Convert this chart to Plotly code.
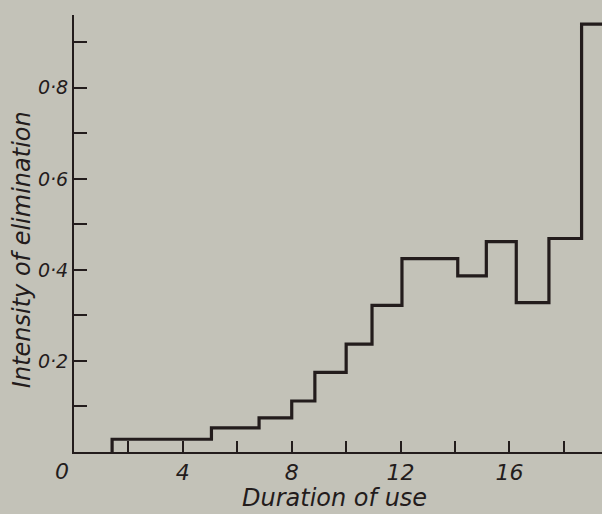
import plotly.graph_objects as go

# Step edges (duration of use) and intensity values for each interval
edges = [1.4, 5.05, 6.8, 8.0, 8.85, 10.0, 10.95, 12.05, 14.1, 15.15, 16.25, 17.45, 18.65, 19.4]
intensity = [0.028, 0.053, 0.075, 0.112, 0.175, 0.237, 0.322, 0.425, 0.387, 0.462, 0.328, 0.469, 0.94]

x_major = [4, 8, 12, 16]
x_major_text = ["4", "8", "12", "16"]
x_minor = [2, 6, 10, 14, 18]
y_major = [0.2, 0.4, 0.6, 0.8]
y_major_text = ["0·8" if v == 0.8 else "0·6" if v == 0.6 else "0·4" if v == 0.4 else "0·2" for v in y_major]
y_minor = [0.1, 0.3, 0.5, 0.7, 0.9]

# build hv step path
xs = [edges[0]] + edges[:-1] + [edges[-1]]
ys = [0] + intensity + [intensity[-1]]

BG = "#c3c2b8"
INK = "#231c1c"
FONT = "DejaVu Sans"

fig = go.Figure()
fig.add_trace(go.Scatter(x=xs, y=ys, mode="lines", line=dict(shape="hv", color=INK, width=3.2),
                         hoverinfo="skip", showlegend=False))

fig.update_layout(
    width=602, height=514,
    margin=dict(l=74, r=0, t=15, b=62),
    paper_bgcolor=BG, plot_bgcolor=BG,
    showlegend=False,
    font=dict(family=FONT, color=INK),
)
fig.update_xaxes(
    range=[0, 19.4], showgrid=False, zeroline=False,
    showline=True, linecolor=INK, linewidth=2,
    ticks="inside", ticklen=11, tickwidth=1.5, tickcolor=INK,
    tickmode="array", tickvals=x_major, ticktext=x_major_text,
    tickfont=dict(size=22, family=FONT, style="italic", color=INK),
    minor=dict(tickmode="array", tickvals=x_minor, ticks="inside", ticklen=11, tickwidth=1.5, tickcolor=INK),
)
fig.update_yaxes(
    range=[0, 0.96], showgrid=False, zeroline=False,
    showline=True, linecolor=INK, linewidth=2,
    ticks="inside", ticklen=13, tickwidth=1.5, tickcolor=INK,
    tickmode="array", tickvals=y_major, ticktext=y_major_text,
    tickfont=dict(size=19, family=FONT, style="italic", color=INK),
    minor=dict(tickmode="array", tickvals=y_minor, ticks="inside", ticklen=13, tickwidth=1.5, tickcolor=INK),
)

fig.add_annotation(x=0, y=0, xref="x", yref="y", text="0", showarrow=False,
                   xshift=-12, yshift=-19, xanchor="center", yanchor="middle",
                   font=dict(size=22, family=FONT, style="italic", color=INK))
fig.add_annotation(x=(334 - 74) / 528, y=-(498 - 451.7) / 436.7, xref="paper", yref="paper",
                   text="Duration of use", showarrow=False, xanchor="center", yanchor="middle",
                   font=dict(size=24, family=FONT, style="italic", color=INK))
fig.add_annotation(x=(22 - 74) / 528, y=(451.7 - 250) / 436.7, xref="paper", yref="paper",
                   text="Intensity of elimination", textangle=-90, showarrow=False,
                   xanchor="center", yanchor="middle",
                   font=dict(size=24, family=FONT, style="italic", color=INK))

fig.write_html("out.html")
